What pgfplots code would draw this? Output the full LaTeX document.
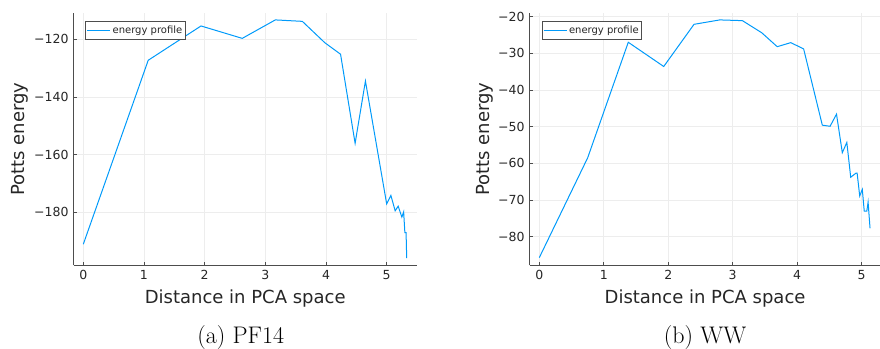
\documentclass[border=0pt]{standalone}
\usepackage{fontspec}
\usepackage{pgfplots}
\pgfplotsset{compat=1.18}
\newfontfamily\dv{DejaVu Sans}
\definecolor{pblue}{RGB}{0,154,250}
\definecolor{spine}{RGB}{77,77,77}
\definecolor{txt}{RGB}{38,38,38}
\newcommand\tl[1]{\hbox{\dv\fontsize{12.5}{14}\selectfont\color{txt}#1}}
\pgfplotsset{
  myax/.style={
    scale only axis,
    axis x line*=bottom, axis y line*=left,
    axis line style={spine, line width=0.9pt, -},
    tick align=inside,
    major tick length=3pt,
    tick style={spine, line width=0.6pt},
    xmajorgrids, ymajorgrids,
    grid style={black!7, line width=0.6pt},
    /pgf/number format/assume math mode=true,
    label style={font=\dv\fontsize{18}{21}\selectfont, text=txt},
    xtick={0,1,2,3,4,5}, xticklabels={\tl{0},\tl{1},\tl{2},\tl{3},\tl{4},\tl{5}},
    xticklabel style={inner sep=0pt, yshift=-5pt},
    yticklabel style={inner sep=0pt, xshift=-5pt},
    legend cell align=left,
    legend style={draw=spine, fill=white, line width=0.7pt,
      font=\dv\fontsize{10}{12}\selectfont, text=txt,
      inner xsep=1pt, inner ysep=2.5pt, anchor=north west},
    legend image code/.code={\draw[#1, line width=1pt] (0pt,0pt) -- (23pt,0pt);},
  }
}
\begin{document}
\begin{tikzpicture}
\path[use as bounding box] (0pt,0pt) rectangle (880pt,-348pt);
\begin{axis}[myax,
  at={(73.7pt,-265.3pt)}, anchor=south west,
  width=343pt, height=252.6pt,
  xmin=-0.158, xmax=5.495, ymin=-198.4, ymax=-110.8,
  ytick={-180,-160,-140,-120}, yticklabels={\tl{−180},\tl{−160},\tl{−140},\tl{−120}},
  xlabel={Distance in PCA space}, ylabel={Potts energy},
  xlabel style={at={(axis description cs:0.5,-0.1334)}, anchor=center},
  ylabel style={at={(axis description cs:-0.1566,0.5)}, anchor=center},
  legend style={at={(axis description cs:0.0338,0.966)}},
]
\addplot[pblue, line width=1pt] coordinates {
(0,-191.1) (1.07,-127.3) (1.94,-115.4) (2.62,-119.7) (3.165,-113.3) (3.61,-113.8)
(3.98,-121.2) (4.24,-125.2) (4.48,-156.1) (4.65,-134.5) (5.0,-177.1) (5.07,-174.2)
(5.14,-179.5) (5.19,-177.9) (5.25,-181.7) (5.28,-179.9) (5.30,-187.1) (5.32,-187.1)
(5.33,-195.9)};
\addlegendentry{energy profile}
\end{axis}
\begin{axis}[myax,
  at={(529.7pt,-265.3pt)}, anchor=south west,
  width=350pt, height=252pt,
  xmin=-0.149, xmax=5.28, ymin=-87.8, ymax=-19.1,
  ytick={-80,-70,-60,-50,-40,-30,-20},
  yticklabels={\tl{−80},\tl{−70},\tl{−60},\tl{−50},\tl{−40},\tl{−30},\tl{−20}},
  xlabel={Distance in PCA space}, ylabel={Potts energy},
  xlabel style={at={(axis description cs:0.501,-0.1337)}, anchor=center},
  ylabel style={at={(axis description cs:-0.1286,0.5)}, anchor=center},
  legend style={at={(axis description cs:0.0343,0.968)}},
]
\addplot[pblue, line width=1pt] coordinates {
(0,-85.7) (0.75,-58.5) (1.38,-27.0) (1.93,-33.6) (2.40,-22.1) (2.80,-20.9)
(3.15,-21.1) (3.45,-24.4) (3.69,-28.2) (3.90,-27.1) (4.10,-28.8) (4.39,-49.6)
(4.51,-49.9) (4.61,-46.6) (4.70,-57.1) (4.77,-54.3) (4.83,-63.8) (4.91,-62.7)
(4.93,-62.7) (4.97,-68.9) (5.01,-67.1) (5.04,-73.0) (5.08,-73.0) (5.10,-70.6)
(5.13,-77.7)};
\addlegendentry{energy profile}
\end{axis}
\node[font=\fontsize{24}{28}\selectfont, anchor=center] at (240.7pt,-337.4pt) {(a) PF14};
\node[font=\fontsize{24}{28}\selectfont, anchor=center] at (705pt,-337.4pt) {(b) WW};
\end{tikzpicture}
\end{document}
